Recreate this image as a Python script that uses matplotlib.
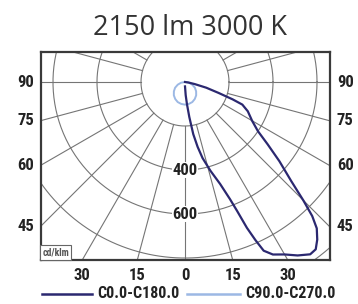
import numpy as np
import matplotlib.pyplot as plt
from matplotlib.lines import Line2D

# luminous intensity, cd/klm, angle from nadir (positive = C0 side)
gamma_c0 = [0, 3, 5, 7, 9, 11, 13, 16, 19, 21, 22, 23, 24, 25, 27, 30, 33, 36, 38,
            40, 42, 43.5, 45, 47, 50, 53, 56, 60, 65, 68.5, 70, 72, 75, 78, 82, 90]
intensity_c0 = [20, 60, 100, 160, 240, 300, 355, 420, 490, 570, 632, 720, 786, 846, 880,
                905, 940, 968, 965, 935, 895, 840, 760, 660, 560, 470, 400, 352, 315,
                280, 230, 160, 100, 45, 15, 0]

gamma_c90 = [-90, -80, -70, -60, -50, -40, -30, -20, -10, 0,
             10, 20, 30, 40, 50, 60, 70, 80, 90]
intensity_c90 = [0, 18, 35, 52, 66, 79, 89, 97, 101, 103,
                 101, 97, 89, 79, 66, 52, 35, 18, 0]

ring_values = [200, 400, 600, 800, 1000, 1200]
ring_labels = [400, 600]
side_ticks = [90, 75, 60, 45]
bottom_ticks = [-30, -15, 0, 15, 30]

title = "2150 lm 3000 K"
legend_names = ["C0.0-C180.0", "C90.0-C270.0"]
colors = ["#2b2870", "#9cb8e4"]

narrow = "Roboto Condensed"
grid_c = "#757575"
W, H = 358, 304

fig = plt.figure(figsize=(W / 100, H / 100), dpi=100)
ax = fig.add_axes([41 / W, 44 / H, 289 / W, 208 / H])
xmin, xmax = -654.5, 659.0
ymin, ymax = -809.0, 136.4
ax.set_xlim(xmin, xmax)
ax.set_ylim(ymin, ymax)
ax.set_xticks([])
ax.set_yticks([])
for s in ax.spines.values():
    s.set_color("#3a3a3a")
    s.set_linewidth(1.6)


def to_xy(g, r):
    g = np.radians(np.asarray(g, dtype=float))
    r = np.asarray(r, dtype=float)
    return r * np.sin(g), -r * np.cos(g)


# grid
t = np.linspace(0, 2 * np.pi, 400)
for r in ring_values:
    ax.plot(r * np.cos(t), r * np.sin(t), color=grid_c, lw=0.8, zorder=1)
for a in range(-165, 180, 15):
    x, y = to_xy([a, a], [200, 2000])
    ax.plot(x, y, color=grid_c, lw=0.8, zorder=1)

# curves
x, y = to_xy(gamma_c90, intensity_c90)
ax.plot(x, y, color=colors[1], lw=1.4, zorder=3)
x, y = to_xy(gamma_c0, intensity_c0)
ax.plot(x, y, color=colors[0], lw=1.6, zorder=4)

lab = dict(fontweight="bold", family=narrow, color="#222222")

# ring labels
for v in ring_labels:
    ax.text(0, -v, str(v), ha="center", va="center", fontsize=12, zorder=5,
            bbox=dict(boxstyle="square,pad=0.03", fc="white", ec="none"), **lab)

# angle labels on the frame
for a in side_ticks:
    yy = -abs(xmin) / np.tan(np.radians(a)) if a != 90 else 0.0
    ax.annotate(str(a), (xmin, yy), xytext=(-5, 0), textcoords="offset points",
                ha="right", va="center", fontsize=12, annotation_clip=False, **lab)
    ax.annotate(str(a), (xmax, yy), xytext=(5, 0), textcoords="offset points",
                ha="left", va="center", fontsize=12, annotation_clip=False, **lab)
for a in bottom_ticks:
    xx = abs(ymin) * np.tan(np.radians(a))
    ax.annotate(str(abs(a)), (xx, ymin), xytext=(0, -6), textcoords="offset points",
                ha="center", va="top", fontsize=12, annotation_clip=False, **lab)

ax.text(0.004, 0.012, "cd/klm", transform=ax.transAxes, ha="left", va="bottom",
        fontsize=7, fontweight="bold", family=narrow, color="#555555", zorder=6,
        bbox=dict(boxstyle="square,pad=0.25", fc="white", ec="#666666", lw=0.8))

fig.text(190 / W, 1 - 28 / H, title, ha="center", va="center", fontsize=19.5,
         family="Open Sans", color="#333333")

# legend row
leg_y = 1 - 294 / H
for (x0, x1, tx), name, c in zip([(42, 92, 97), (187, 240, 245)], legend_names, colors):
    fig.add_artist(Line2D([x0 / W, x1 / W], [leg_y, leg_y], color=c, lw=1.8,
                          transform=fig.transFigure))
    fig.text(tx / W, leg_y, name, ha="left", va="center", fontsize=11.5, **lab)

fig.savefig("out.png", dpi=100)
